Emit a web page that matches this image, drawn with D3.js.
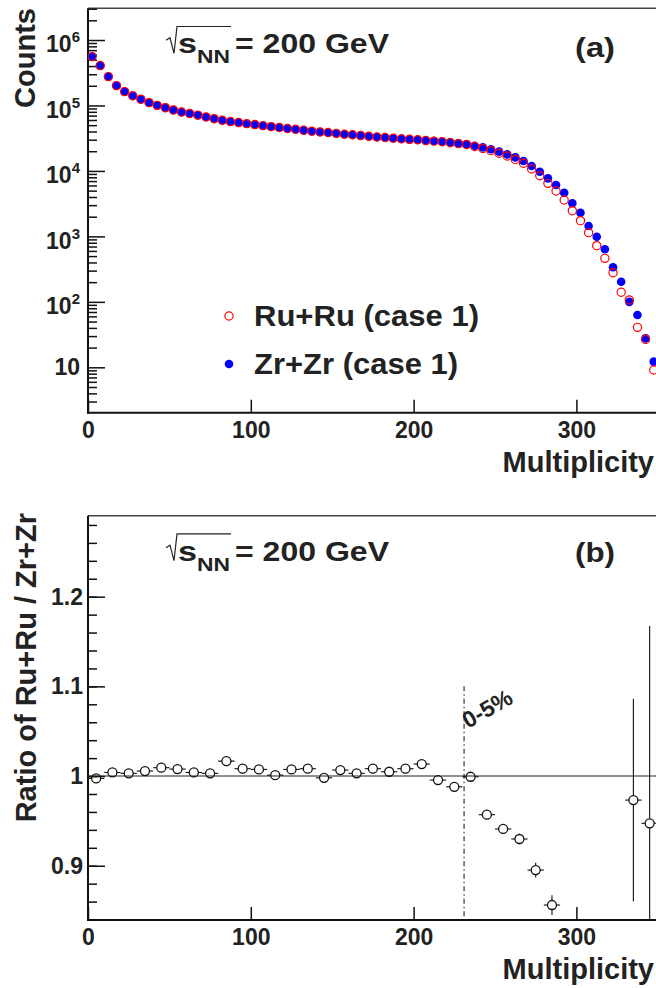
<!DOCTYPE html>
<html><head><meta charset="utf-8">
<script src="https://cdn.jsdelivr.net/npm/d3@7/dist/d3.min.js"></script>
<style>
html,body{margin:0;padding:0;background:#fff;}
svg text{font-family:"Liberation Sans",Arial,Helvetica,sans-serif;font-weight:bold;fill:#222;}
</style></head><body>
<svg id="c" width="656" height="988"></svg>
<script>
// ---------- data ----------
const multTop = [2.5,7.5,12.5,17.5,22.5,27.5,32.5,37.5,42.5,47.5,
  52.5,57.5,62.5,67.5,72.5,77.5,82.5,87.5,92.5,97.5,
  102.5,107.5,112.5,117.5,122.5,127.5,132.5,137.5,142.5,147.5,
  152.5,157.5,162.5,167.5,172.5,177.5,182.5,187.5,192.5,197.5,
  202.5,207.5,212.5,217.5,222.5,227.5,232.5,237.5,242.5,247.5,
  252.5,257.5,262.5,267.5,272.5,277.5,282.5,287.5,292.5,297.5,
  302.5,307.5,312.5,317.5,322.5,327.5,332.5,337.5,342.5,347.5];
const countsZr = [556000,405000,275000,200000,162000,140000,124000,110000,100000,92000,
  85000,79000,75000,71000,66500,62500,59000,56500,54500,52500,
  50800,49000,47400,45800,44300,43000,41700,40400,39300,38400,
  37300,36300,35500,34600,33700,32900,32200,31500,30800,30200,
  29700,29200,28700,28200,27300,26400,25500,24300,22900,21400,
  19700,17900,16100,14200,11900,9700,7700,6100,4650,3200,
  2300,1440,990,635,337,203,100,63,27.7,12.2];
const countsRu = [558000,407000,276000,201000,163000,141000,124500,110500,100500,92500,
  85500,79400,75300,71300,66800,62800,59400,56800,54800,52800,
  51100,49300,47500,46100,44500,43300,41900,40400,39400,38600,
  37500,36400,35700,34700,33900,33000,32400,31600,31000,30400,
  30000,29100,28500,27900,27000,26100,25400,23600,22000,20400,
  18600,16900,15000,13100,10700,8450,6460,4930,3600,2470,
  1740,1140,721,462,279,140,107,40.8,26.7,9.1];

const multRatio = [5,15,25,35,45,55,65,75,85,95,105,115,125,135,145,155,165,175,185,195,
  205,215,225,235,245,255,265,275,285,335,345];
const ratioVals = [0.9974,1.004,1.003,1.0056,1.0093,1.0078,1.004,1.003,1.0167,1.0082,
  1.0074,1.001,1.0074,1.0082,0.998,1.0067,1.003,1.0082,1.0048,1.0082,
  1.0134,0.9955,0.988,0.9992,0.9569,0.941,0.9298,0.8952,0.8562,0.9732,0.9473];
const ratioErr = [0.002,0.002,0.002,0.002,0.002,0.002,0.002,0.002,0.002,0.002,
  0.002,0.002,0.002,0.002,0.002,0.002,0.002,0.002,0.002,0.002,
  0.003,0.003,0.003,0.003,0.004,0.004,0.0058,0.0082,0.011,0.113,0.22];

const xTickVals = [0,100,200,300];
const logTickVals = [10,100,1000,10000,100000,1000000];
const ratioTickVals = [0.9,1.0,1.1,1.2];
const ratioTickLabels = ["0.9","1","1.1","1.2"];
const centralityCut = 231;
const legendLabels = ["Ru+Ru (case 1)","Zr+Zr (case 1)"];

// ---------- layout ----------
const svg = d3.select("#c");
const L = 88, R = 656;
const A = {top: 8.3, bottom: 412.7};
const B = {top: 515.7, bottom: 920};
const x = d3.scaleLinear().domain([0,350]).range([L, L + 350*1.628]);
const yA = d3.scaleLog().domain([2.026, 3.051e6]).range([A.bottom, A.top]);
const yB = d3.scaleLinear().domain([0.8395, 1.2903]).range([B.bottom, B.top]);

const defs = svg.append("defs");
defs.append("clipPath").attr("id","clipA").append("rect")
  .attr("x",L).attr("y",A.top).attr("width",R-L).attr("height",A.bottom-A.top);
defs.append("clipPath").attr("id","clipB").append("rect")
  .attr("x",L).attr("y",B.top).attr("width",R-L).attr("height",B.bottom-B.top);

function frame(P){
  svg.append("line").attr("x1",L).attr("x2",R).attr("y1",P.top).attr("y2",P.top)
    .attr("stroke","#444").attr("stroke-width",1.6);
  svg.append("line").attr("x1",L).attr("x2",L).attr("y1",P.top).attr("y2",P.bottom+1)
    .attr("stroke","#111").attr("stroke-width",2);
  svg.append("line").attr("x1",L-1).attr("x2",R).attr("y1",P.bottom).attr("y2",P.bottom)
    .attr("stroke","#111").attr("stroke-width",2);
}
function styleAxis(g, fs){
  g.attr("font-size",fs).attr("font-family",null).attr("color","#111");
  g.select(".domain").remove();
  g.selectAll(".tick line").attr("stroke-width",1.5);
}
function xAxis(P){
  const g = svg.append("g").attr("transform",`translate(0,${P.bottom})`)
    .call(d3.axisBottom(x).tickValues(xTickVals).tickSize(-13).tickSizeOuter(0).tickPadding(8.7).tickFormat(d3.format("d")));
  styleAxis(g, 23);
  svg.append("text").attr("x",654).attr("y",P.bottom+59).attr("text-anchor","end")
    .attr("font-size",29).text("Multiplicity");
}
function sqrtLabel(base){
  svg.append("path").attr("d",`M166,${base-13} L170,${base-15.5} L174,${base} L177,${base-26.8} L231,${base-26.8}`)
    .attr("fill","none").attr("stroke","#222").attr("stroke-width",1.2);
  svg.append("text").attr("x",178).attr("y",base).attr("font-size",27)
    .attr("textLength",19).attr("lengthAdjust","spacingAndGlyphs").text("s");
  svg.append("text").attr("x",197).attr("y",base+10).attr("font-size",18)
    .attr("textLength",33).attr("lengthAdjust","spacingAndGlyphs").text("NN");
  svg.append("text").attr("x",235).attr("y",base).attr("font-size",27)
    .attr("textLength",154).attr("lengthAdjust","spacingAndGlyphs").text("= 200 GeV");
}

// ---------- panel (a) ----------
frame(A);
const minorsA = [];
for (let e = 0; e <= 6; e++) for (let k = 2; k <= 9; k++) {
  const v = k*Math.pow(10,e);
  if (v > yA.domain()[0] && v < yA.domain()[1]) minorsA.push(v);
}
const gmA = svg.append("g").attr("transform",`translate(${L},0)`)
  .call(d3.axisLeft(yA).tickValues(minorsA).tickSize(-9).tickSizeOuter(0).tickFormat(""));
styleAxis(gmA, 23);
const gA = svg.append("g").attr("transform",`translate(${L},0)`)
  .call(d3.axisLeft(yA).tickValues(logTickVals).tickSize(-17).tickSizeOuter(0).tickPadding(8));
styleAxis(gA, 23);
gA.selectAll(".tick text").each(function(d){
  const t = d3.select(this); const e = Math.round(Math.log10(d));
  t.text(null);
  if (e === 1) { t.attr("dy","0.33em").text("10"); }
  else {
    t.attr("dy","0.52em");
    t.append("tspan").text("10");
    t.append("tspan").attr("dy",-10).attr("font-size",15).text(e);
  }
});
xAxis(A);
svg.append("text").attr("transform","translate(35,8) rotate(-90)").attr("text-anchor","end")
  .attr("font-size",29).text("Counts");
sqrtLabel(53.3);
svg.append("text").attr("x",575).attr("y",57).attr("font-size",28)
  .attr("textLength",40).attr("lengthAdjust","spacingAndGlyphs").text("(a)");

const pA = svg.append("g").attr("clip-path","url(#clipA)");
pA.selectAll("circle.zr").data(multTop).join("circle").attr("class","zr")
  .attr("cx",d=>x(d)).attr("cy",(d,i)=>yA(countsZr[i])).attr("r",4.3).attr("fill","#0000ff");
pA.selectAll("circle.ru").data(multTop).join("circle").attr("class","ru")
  .attr("cx",d=>x(d)).attr("cy",(d,i)=>yA(countsRu[i])).attr("r",4.1)
  .attr("fill","none").attr("stroke","#ff0000").attr("stroke-width",1.2);

// legend
svg.append("circle").attr("cx",229).attr("cy",316).attr("r",4.1).attr("fill","none")
  .attr("stroke","#ff0000").attr("stroke-width",1.2);
svg.append("text").attr("x",254).attr("y",325.7).attr("font-size",30)
  .attr("textLength",225).attr("lengthAdjust","spacingAndGlyphs").text(legendLabels[0]);
svg.append("circle").attr("cx",229).attr("cy",364).attr("r",4.3).attr("fill","#0000ff");
svg.append("text").attr("x",254).attr("y",374.3).attr("font-size",30)
  .attr("textLength",204).attr("lengthAdjust","spacingAndGlyphs").text(legendLabels[1]);

// ---------- panel (b) ----------
frame(B);
const minorsB = [];
for (let v = 0.84; v < 1.29; v += 0.02) minorsB.push(+v.toFixed(2));
const gmB = svg.append("g").attr("transform",`translate(${L},0)`)
  .call(d3.axisLeft(yB).tickValues(minorsB).tickSize(-9).tickSizeOuter(0).tickFormat(""));
styleAxis(gmB, 23);
const gB = svg.append("g").attr("transform",`translate(${L},0)`)
  .call(d3.axisLeft(yB).tickValues(ratioTickVals).tickSize(-17).tickSizeOuter(0).tickPadding(5)
    .tickFormat((d,i)=>ratioTickLabels[i]));
styleAxis(gB, 23);
xAxis(B);
svg.append("text").attr("transform","translate(36,513) rotate(-90)").attr("text-anchor","end")
  .attr("font-size",29).text("Ratio of Ru+Ru / Zr+Zr");
sqrtLabel(560.7);
svg.append("text").attr("x",575).attr("y",562).attr("font-size",28)
  .attr("textLength",40).attr("lengthAdjust","spacingAndGlyphs").text("(b)");

const pB = svg.append("g").attr("clip-path","url(#clipB)");
pB.append("line").attr("x1",L).attr("x2",R).attr("y1",yB(1)).attr("y2",yB(1))
  .attr("stroke","#222").attr("stroke-width",1.1);
pB.append("line").attr("x1",x(centralityCut)).attr("x2",x(centralityCut))
  .attr("y1",yB(1.1)).attr("y2",B.bottom)
  .attr("stroke","#222").attr("stroke-width",1.1).attr("stroke-dasharray","5,3,1.5,3");
const r0 = 4.5;
const eb = pB.append("g").attr("stroke","#111").attr("stroke-width",1.1);
multRatio.forEach((m,i)=>{
  const cx = x(m), cy = yB(ratioVals[i]);
  const x0 = x(m-5), x1 = x(m+5);
  eb.append("line").attr("x1",x0).attr("x2",cx-r0).attr("y1",cy).attr("y2",cy);
  eb.append("line").attr("x1",cx+r0).attr("x2",x1).attr("y1",cy).attr("y2",cy);
  const yt = yB(ratioVals[i]+ratioErr[i]), yb = yB(ratioVals[i]-ratioErr[i]);
  if (cy - yt > r0) eb.append("line").attr("x1",cx).attr("x2",cx).attr("y1",yt).attr("y2",cy-r0);
  if (yb - cy > r0) eb.append("line").attr("x1",cx).attr("x2",cx).attr("y1",cy+r0).attr("y2",yb);
});
pB.selectAll("circle.rt").data(multRatio).join("circle").attr("class","rt")
  .attr("cx",d=>x(d)).attr("cy",(d,i)=>yB(ratioVals[i])).attr("r",r0)
  .attr("fill","none").attr("stroke","#111").attr("stroke-width",1.3);
svg.append("text").attr("transform","translate(468,729) rotate(-30)").attr("font-size",23).text("0-5%");
</script>
</body></html>
